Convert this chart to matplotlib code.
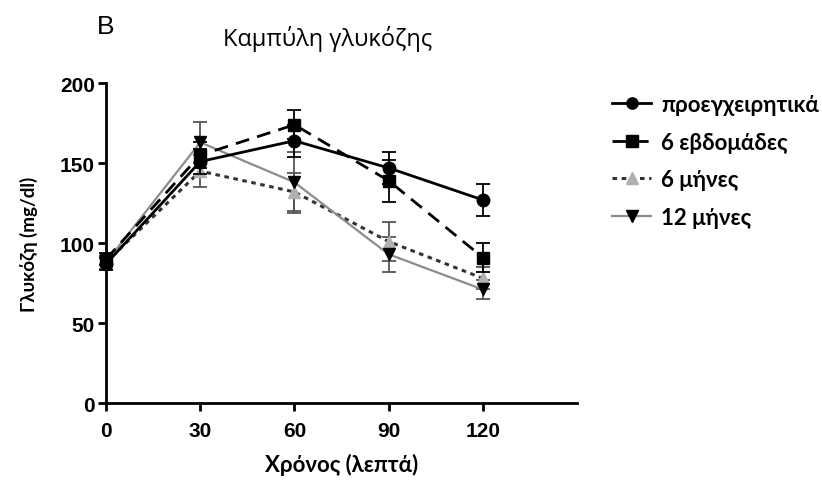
import matplotlib
matplotlib.use("Agg")
import matplotlib.pyplot as plt

# Oral glucose tolerance curve, four time points after surgery
times = [0, 30, 60, 90, 120]
series_labels = ["προεγχειρητικά", "6 εβδομάδες", "6 μήνες", "12 μήνες"]

preop = [87, 151, 164, 147, 127]
preop_err = [4, 8, 10, 10, 10]

weeks6 = [90, 155, 174, 139, 91]
weeks6_err = [4, 8, 9, 13, 9]

months6 = [88, 145, 132, 101, 78]
months6_err = [4, 10, 12, 12, 7]

months12 = [88, 163, 138, 93, 71]
months12_err = [4, 13, 19, 11, 6]

x_ticks = [0, 30, 60, 90, 120]
y_ticks = [0, 50, 100, 150, 200]

fig = plt.figure(figsize=(8.22, 4.81), dpi=100)
ax = fig.add_axes([0.129, 0.160, 0.573, 0.665])

common = dict(capsize=5, elinewidth=1.3, capthick=1.3, markersize=9)
c1 = ax.errorbar(times, preop, yerr=preop_err, color="black", ls="-", lw=2,
                 marker="o", mfc="black", mec="black", ecolor="black",
                 zorder=5, **common)
c2 = ax.errorbar(times, weeks6, yerr=weeks6_err, color="black", ls=(0, (5, 3)), lw=2,
                 marker="s", mfc="black", mec="black", ecolor="black",
                 zorder=4, **common)
c3 = ax.errorbar(times, months6, yerr=months6_err, color="#333333", ls=(0, (1.5, 1.5)), lw=2.2,
                 marker="^", mfc="#b0b0b0", mec="#b0b0b0", ecolor="#555555",
                 zorder=3, **common)
c4 = ax.errorbar(times, months12, yerr=months12_err, color="#8c8c8c", ls="-", lw=1.6,
                 marker="v", mfc="black", mec="black", ecolor="#555555",
                 zorder=3, **common)

ax.set_xlim(0, 150)
ax.set_ylim(0, 200)
ax.set_xticks(x_ticks)
ax.set_yticks(y_ticks)
for s in ["top", "right"]:
    ax.spines[s].set_visible(False)
for s in ["left", "bottom"]:
    ax.spines[s].set_linewidth(2)
ax.tick_params(axis="both", direction="out", length=6, width=2)
ax.tick_params(axis="x", pad=7)
ax.tick_params(axis="y", pad=2)
for lab in ax.get_xticklabels() + ax.get_yticklabels():
    lab.set_fontfamily("Liberation Sans")
    lab.set_fontweight("bold")
    lab.set_fontsize(15)

ax.set_xlabel("Χρόνος (λεπτά)", fontfamily="Lato", fontweight="bold", fontsize=16, labelpad=9)
ax.set_ylabel("Γλυκόζη (mg/dl)", fontfamily="Lato", fontweight="bold", fontsize=13.5, labelpad=16)

fig.text(0.399, 0.904, "Καμπύλη γλυκόζης", fontfamily="Open Sans", fontsize=17,
         fontweight="medium", ha="center", va="baseline", color="black")
fig.text(0.128, 0.944, "B", fontfamily="Liberation Sans", fontsize=19, ha="center", va="center")

# legend shows only the line + marker, without error bars
handles = [c[0] for c in (c1, c2, c3, c4)]
leg = fig.legend(handles, series_labels, loc="upper left", bbox_to_anchor=(0.745, 0.802),
                 frameon=False, borderpad=0, borderaxespad=0,
                 prop={"family": "Lato", "weight": "bold", "size": 16},
                 handlelength=1.75, handletextpad=0.45, labelspacing=0.74, markerscale=0.9)

for line in ax.get_lines():
    line.set_clip_on(False)

fig.savefig("out.png", dpi=100)
